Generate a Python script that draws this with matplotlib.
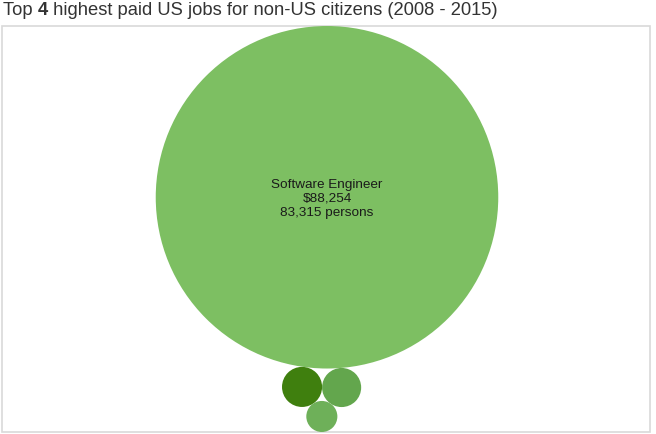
import math

import matplotlib

matplotlib.use("Agg")
import matplotlib.pyplot as plt
from matplotlib.patches import Circle, Rectangle

plt.rcParams["font.family"] = ["Liberation Sans", "DejaVu Sans"]

# data (only the largest bubble is labelled)
jobs = ["Software Engineer", "", "", ""]
salaries = [88254, None, None, None]
persons = [83315, 1140, 1085, 685]
colors = ["#7dbf62", "#3f7f0e", "#63a64d", "#6eb059"]

title_parts = [("Top ", "normal"), ("4", "bold"),
               (" highest paid US jobs for non-US citizens (2008 - 2015)", "normal")]

W, H = 656, 434
PANEL = (2, 26, 648, 406)  # x, y, w, h in pixels (y down)


def tangent(c1, c2, r):
    # two circles of radius r touching both c1 and c2
    (x1, y1, r1), (x2, y2, r2) = c1, c2
    d1, d2 = r1 + r, r2 + r
    dx, dy = x2 - x1, y2 - y1
    d = math.hypot(dx, dy)
    a = (d1 ** 2 - d2 ** 2 + d ** 2) / (2 * d)
    h = math.sqrt(max(d1 ** 2 - a ** 2, 0.0))
    mx, my = x1 + a * dx / d, y1 + a * dy / d
    return [(mx - h * dy / d, my + h * dx / d, r), (mx + h * dy / d, my - h * dx / d, r)]


def pack(values):
    radii = [math.sqrt(v) for v in values]
    a = (0.0, 0.0, radii[0])
    ang = math.atan2(190, -25)  # second bubble sits just below-left of the big one
    dist = radii[0] + radii[1]
    b = (dist * math.cos(ang), dist * math.sin(ang), radii[1])
    c = max(tangent(a, b, radii[2]), key=lambda t: t[0])
    d = max(tangent(b, c, radii[3]), key=lambda t: t[1])
    return [a, b, c, d]


def main() -> None:
    circles = pack(persons)
    xmin = min(x - r for x, y, r in circles)
    xmax = max(x + r for x, y, r in circles)
    ymin = min(y - r for x, y, r in circles)
    ymax = max(y + r for x, y, r in circles)
    px, py, pw, ph = PANEL
    s = ph / (ymax - ymin)
    cx, cy = px + pw / 2 + 1, py + ph / 2
    ox, oy = (xmin + xmax) / 2, (ymin + ymax) / 2

    fig = plt.figure(figsize=(W / 100, H / 100), dpi=100)
    ax = fig.add_axes([0, 0, 1, 1])
    ax.set_xlim(0, W)
    ax.set_ylim(H, 0)
    ax.axis("off")

    ax.add_patch(Rectangle((px, py), pw, ph, facecolor="white",
                           edgecolor="#d9d9d9", linewidth=1.2))

    for (x, y, r), col, job, sal, n in zip(circles, colors, jobs, salaries, persons):
        X, Y, R = cx + (x - ox) * s, cy + (y - oy) * s, r * s
        ax.add_patch(Circle((X, Y), R, facecolor=col, edgecolor="none"))
        if job and R > 60:
            ax.text(X, Y + 1.5, f"{job}\n${sal:,}\n{n:,} persons", ha="center",
                    va="center", fontsize=9.7, color="#1a1a1a", linespacing=1.22)

    fs = 13.2
    prev = fig.text(3 / W, 1 - 2 / H, title_parts[0][0], fontsize=fs,
                    color="#333333", ha="left", va="top")
    for txt, wt in title_parts[1:]:
        prev = ax.annotate(txt, xy=(1, 0), xycoords=prev, ha="left", va="bottom",
                           fontsize=fs, fontweight=wt, color="#333333")

    fig.savefig("out.png", dpi=100)
    plt.close(fig)


if __name__ == "__main__":
    main()
